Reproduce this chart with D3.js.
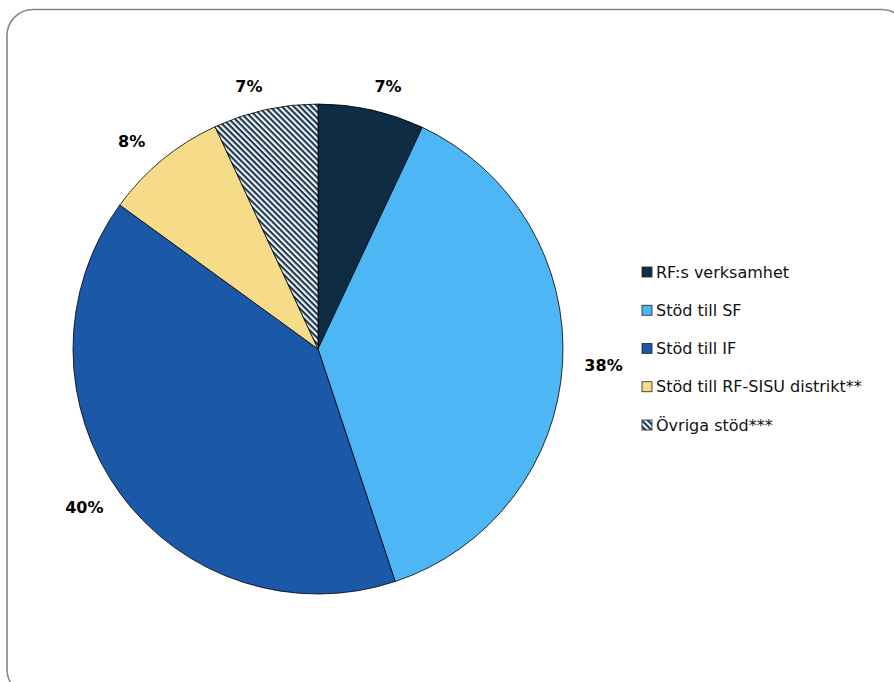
<!DOCTYPE html>
<html><head><meta charset="utf-8">
<script src="https://cdn.jsdelivr.net/npm/d3@7"></script>
<style>body{margin:0;background:#fff}</style>
</head><body>
<script>
const categories = ["RF:s verksamhet","Stöd till SF","Stöd till IF","Stöd till RF-SISU distrikt**","Övriga stöd***"];
const values = [7.0, 37.9, 40.1, 8.1, 6.9];
const labels = ["7%","38%","40%","8%","7%"];
const colors = ["#0e2d44","#4db7f6","#1b58a7","#f6dc88","url(#hatch)"];

const W=894,H=682;
const svg=d3.select("body").append("svg").attr("width",W).attr("height",H);
const defs=svg.append("defs");
const P=4.2;
const pat=defs.append("pattern").attr("id","hatch").attr("patternUnits","userSpaceOnUse")
  .attr("width",P).attr("height",P).attr("patternTransform","rotate(45)");
pat.append("rect").attr("width",P).attr("height",P).attr("fill","#f4f6f8");
pat.append("rect").attr("width",P).attr("height",P/2).attr("fill","#1a3850");

svg.append("rect").attr("x",7).attr("y",9.5).attr("width",901).attr("height",686).attr("rx",26)
  .attr("fill","#fff").attr("stroke","#858585").attr("stroke-width",1.6);

const cx=318, cy=349, R=245;
const pie=d3.pie().sort(null).value(d=>d)(values);
const arc=d3.arc().innerRadius(0).outerRadius(R);
const g=svg.append("g").attr("transform",`translate(${cx},${cy})`);
g.selectAll("path").data(pie).join("path").attr("d",arc)
  .attr("fill",(d,i)=>colors[i]).attr("stroke","#000").attr("stroke-width",0.8);

const font="'DejaVu Sans', sans-serif";
g.selectAll("text.lbl").data(pie).join("text").attr("class","lbl")
  .each(function(d,i){
    const a=(d.startAngle+d.endAngle)/2;
    const s=Math.sin(a), c=-Math.cos(a);
    const x=(R+41)*s + 8*Math.sign(s)*(1-s*s);
    const y=(R+23.5)*c;
    d3.select(this).attr("x",x).attr("y",y).text(labels[i]);
  })
  .attr("text-anchor","middle").attr("dominant-baseline","central")
  .attr("font-family",font).attr("font-weight","bold").attr("font-size",16).attr("fill","#000");

const leg=svg.append("g");
const ly=d3.scalePoint().domain(categories).range([272,425]);
const items=leg.selectAll("g").data(categories).join("g").attr("transform",d=>`translate(642,${ly(d)})`);
items.append("rect").attr("x",0).attr("y",-5).attr("width",10).attr("height",10)
  .attr("fill",(d,i)=>colors[i]).attr("stroke","#222").attr("stroke-width",0.8);
items.append("text").attr("x",14).attr("y",0).attr("dominant-baseline","central")
  .attr("font-family",font).attr("font-size",16).attr("fill","#111").text(d=>d);
</script>
</body></html>
